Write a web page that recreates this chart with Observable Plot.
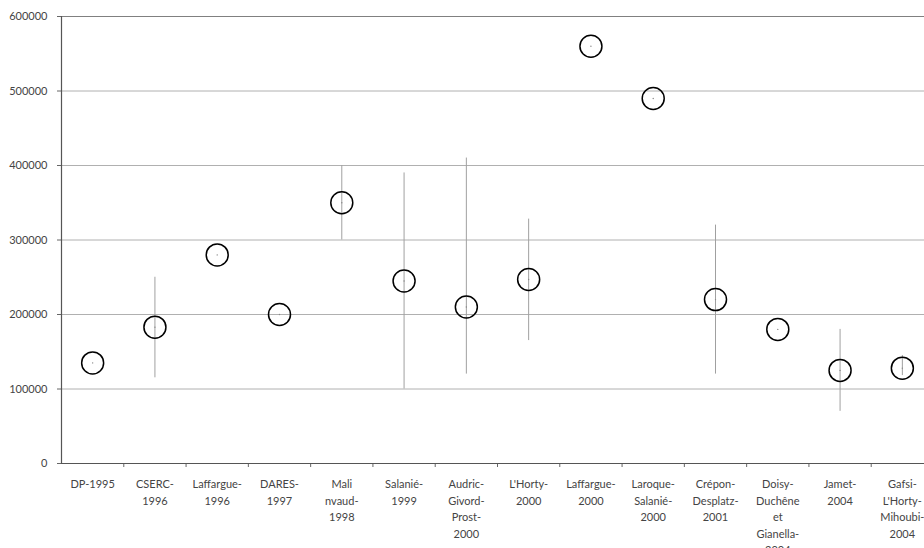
<!DOCTYPE html>
<html>
<head>
<meta charset="utf-8">
<script src="https://cdn.jsdelivr.net/npm/d3@7"></script>
<script src="https://cdn.jsdelivr.net/npm/@observablehq/plot@0.6"></script>
<style>
  html, body { margin: 0; padding: 0; background: #fff; overflow: hidden; }
  #chart svg { display: block; }
</style>
</head>
<body>
<div id="chart"></div>
<script>
const categories = [
  "DP-1995",
  "CSERC-\n1996",
  "Laffargue-\n1996",
  "DARES-\n1997",
  "Mali\nnvaud-\n1998",
  "Salanié-\n1999",
  "Audric-\nGivord-\nProst-\n2000",
  "L'Horty-\n2000",
  "Laffargue-\n2000",
  "Laroque-\nSalanié-\n2000",
  "Crépon-\nDesplatz-\n2001",
  "Doisy-\nDuchêne\net\nGianella-\n2004",
  "Jamet-\n2004",
  "Gafsi-\nL'Horty-\nMihoubi-\n2004"
];
const values = [135000, 183000, 280000, 200000, 350000, 245000, 210000, 247000, 560000, 490000, 220000, 180000, 125000, 128000];
const lows   = [null, 115000, null, null, 300000, 100000, 120000, 165000, null, null, 120000, null, 70000, 118000];
const highs  = [null, 250000, null, null, 400000, 390000, 410000, 328000, null, null, 320000, null, 180000, 145000];
const yTicks = [0, 100000, 200000, 300000, 400000, 500000, 600000];

const data = categories.map((c, i) => ({c, i: i + 0.5, v: values[i], lo: lows[i], hi: highs[i]}));
const bars = data.filter(d => d.lo != null);
const boundaries = d3.range(1, categories.length);

const chart = Plot.plot({
  width: 924,
  height: 548,
  marginTop: 16,
  marginBottom: 85,
  marginLeft: 61,
  marginRight: -9,
  style: {fontFamily: "Lato, 'Open Sans', sans-serif", fontSize: "11px", color: "#444"},
  x: {domain: [0, categories.length], axis: null},
  y: {domain: [0, 600000], axis: null},
  marks: [
    Plot.gridY(yTicks.slice(1, -1), {stroke: "#b0b0b0", strokeOpacity: 1, strokeWidth: 1}),
    Plot.ruleY([600000], {stroke: "#808080", strokeWidth: 1}),
    Plot.axisY({ticks: yTicks, tickSize: 4, tickPadding: 10, tickFormat: d => String(d), stroke: "#666", fill: "#444", fontSize: 11, label: null}),
    Plot.axisX({ticks: boundaries, tickSize: 4, tickFormat: () => "", stroke: "#666", label: null}),
    Plot.ruleX([0], {stroke: "#555", strokeWidth: 1.2}),
    Plot.ruleY([0], {stroke: "#555", strokeWidth: 1.2}),
    Plot.ruleX(bars, {x: "i", y1: "lo", y2: "hi", stroke: "#a0a0a0", strokeWidth: 1}),
    Plot.dot(data, {x: "i", y: "v", r: 0.7, fill: "#888", stroke: null}),
    Plot.dot(data, {x: "i", y: "v", r: 11, stroke: "#000", strokeWidth: 1.5, fill: "none"}),
    Plot.text(data, {x: "i", text: "c", frameAnchor: "bottom", dy: 13, lineAnchor: "top", lineHeight: 1.5, fill: "#444", fontSize: 11})
  ]
});
document.getElementById("chart").appendChild(chart);
</script>
</body>
</html>
